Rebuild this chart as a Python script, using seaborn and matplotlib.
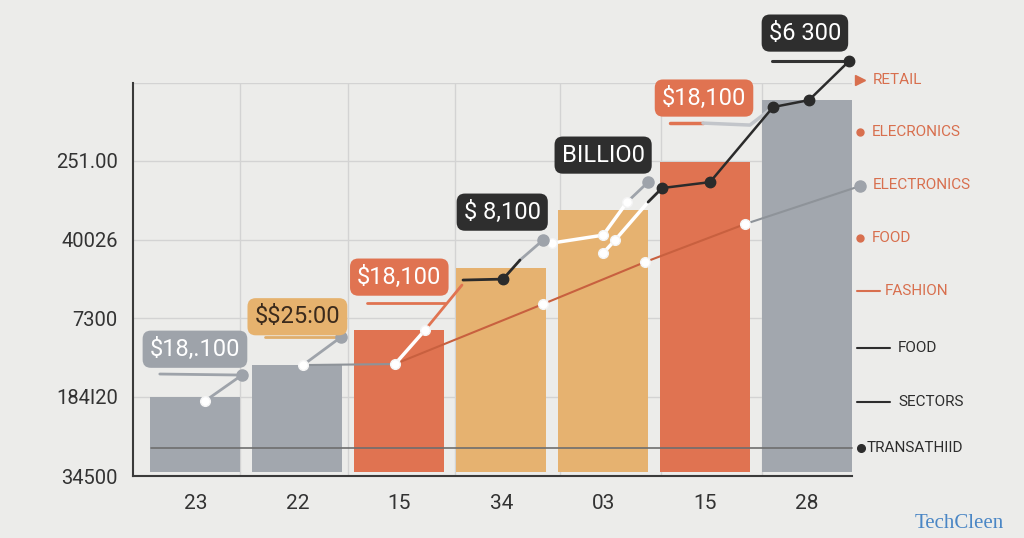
import matplotlib
matplotlib.use("Agg")
import matplotlib.pyplot as plt
from matplotlib.lines import Line2D
import seaborn as sns
import pandas as pd

# ---------------- data ----------------
x_labels = ["23", "22", "15", "34", "03", "15", "28"]
bar_values = [0.95, 1.35, 1.79, 2.57, 3.31, 3.91, 4.69]
bar_colors = ["#A2A7AE", "#A2A7AE", "#E07351", "#E6B270", "#E6B270", "#E07351", "#A2A7AE"]

y_tick_values = [-0.05, 0.95, 1.94, 2.93, 3.93, 4.91]
y_tick_labels = ["34500", "184I20", "7300", "40026", "251.00", ""]
x_grid_values = [0.437, 1.497, 2.547, 3.577, 4.568, 5.559]

callout_texts = ["$18,.100", "$$25:00", "$18,100", "$ 8,100", "BILLIO0", "$18,100", "$6 300"]
callout_x = [-0.005, 1.0, 2.0, 3.01, 4.0, 4.99, 5.98]
callout_y = [1.55, 1.96, 2.46, 3.28, 4.0, 4.72, 5.54]
callout_face = ["#9EA3AA", "#E6B26E", "#E07351", "#2E2E2E", "#2E2E2E", "#E07351", "#2E2E2E"]
callout_textcolor = ["white", "#3B2A1C", "white", "white", "white", "white", "white"]

# line series (x in category units, y in value units)
trend_red_x = [1.958, 3.41, 4.411, 5.393]
trend_red_y = [1.363, 2.12, 2.65, 3.13]
trend_gray_x = [5.393, 6.52]
trend_gray_y = [3.13, 3.609]
black_main_x = [4.578, 5.049, 5.667, 6.02, 6.413]
black_main_y = [3.584, 3.659, 4.606, 4.694, 5.186]
black_flat_x = [2.625, 3.018, 3.184]
black_flat_y = [2.423, 2.435, 2.675]
white_rise_x = [1.958, 2.252]
white_rise_y = [1.363, 1.792]
red_rise_x = [2.252, 2.615]
red_rise_y = [1.792, 2.36]
white_a_x = [3.498, 4.0, 4.235]
white_a_y = [2.89, 2.99, 3.407]
white_b_x = [4.0, 4.117, 4.441]
white_b_y = [2.763, 2.927, 3.407]
gray_lead1_x = [-0.35, 0.456, 0.093]
gray_lead1_y = [1.237, 1.224, 0.896]
gray_lead2_x = [1.055, 1.428]
gray_lead2_y = [1.35, 1.703]
gray_flat_x = [1.055, 1.958]
gray_flat_y = [1.35, 1.363]
gray_lead4_x = [3.184, 3.41]
gray_lead4_y = [2.675, 2.927]
gray_lead5_x = [4.235, 4.441]
gray_lead5_y = [3.407, 3.659]
black_lead5_x = [4.441, 4.578]
black_lead5_y = [3.407, 3.584]
sand_under_x = [0.682, 1.428]
sand_under_y = [1.703, 1.703]
red_under3_x = [1.683, 2.448]
red_under3_y = [2.133, 2.133]
red_under6_x = [4.657, 4.98]
red_under6_y = [4.404, 4.404]
gray_under6_x = [4.98, 5.441, 5.657]
gray_under6_y = [4.404, 4.379, 4.593]
dark_under7_x = [5.657, 6.413]
dark_under7_y = [5.186, 5.186]
base_line_x = [-0.437, 6.44]
base_line_y = [0.303, 0.303]

white_dot_x = [0.093, 1.055, 1.958, 2.252, 3.41, 4.411, 5.393, 3.498, 4.0, 4.235, 4.0, 4.117]
white_dot_y = [0.896, 1.35, 1.363, 1.792, 2.12, 2.65, 3.13, 2.89, 2.99, 3.407, 2.763, 2.927]
gray_dot_x = [0.456, 1.428, 3.41, 4.441, 6.52]
gray_dot_y = [1.224, 1.703, 2.927, 3.659, 3.609]

legend_labels = ["RETAIL", "ELECRONICS", "ELECTRONICS", "FOOD", "FASHION", "FOOD", "SECTORS", "TRANSATHIID"]

# ---------------- style ----------------
BG = "#ECECEA"
sns.set_style("white")
FONT = ["Roboto", "DejaVu Sans"]
plt.rcParams["font.family"] = FONT
plt.rcParams["text.parse_math"] = False

fig = plt.figure(figsize=(10.24, 5.38), dpi=100, facecolor=BG)
ax = fig.add_axes([133 / 1024, 1 - 476 / 538, 719 / 1024, 393 / 538])
ax.set_facecolor(BG)

df = pd.DataFrame({"pos": list(range(len(bar_values))), "value": bar_values})
sns.barplot(data=df, x="pos", y="value", hue="pos", palette=bar_colors,
            width=0.883, saturation=1, legend=False, ax=ax, zorder=2,
            edgecolor="none", linewidth=0)

ax.set_xlim(-0.613, 6.442)
ax.set_ylim(-0.05, 4.91)
ax.set_yticks(y_tick_values)
ax.set_yticklabels(y_tick_labels, fontsize=14.5, color="#333333")
ax.set_xticks(range(len(x_labels)))
ax.set_xticklabels(x_labels, fontsize=15, color="#333333")
ax.tick_params(axis="y", length=0, pad=11)
ax.tick_params(axis="x", length=0, pad=13)
ax.set_xlabel("")
ax.set_ylabel("")

for v in y_tick_values[1:]:
    ax.axhline(v, color="#D3D3D3", lw=1, zorder=0)
for v in x_grid_values:
    ax.axvline(v, color="#D3D3D3", lw=1, zorder=0)

for s in ["top", "right"]:
    ax.spines[s].set_visible(False)
for s in ["left", "bottom"]:
    ax.spines[s].set_color("#3A3A3A")
    ax.spines[s].set_linewidth(1.5)

GRAY = "#9EA3AA"
RED = "#E07351"
BLACK = "#2B2B2B"

def line(x, y, color, lw=2.0, z=4):
    ax.plot(x, y, color=color, lw=lw, zorder=z, clip_on=False, solid_capstyle="round")

line(base_line_x, base_line_y, "#6E6E6E", lw=1.2, z=3)
line(trend_red_x, trend_red_y, "#C8603F", lw=1.5)
line(trend_gray_x, trend_gray_y, "#8E9399", lw=1.5)
line(gray_lead1_x, gray_lead1_y, GRAY, lw=2)
line(gray_lead2_x, gray_lead2_y, GRAY, lw=2)
line(gray_flat_x, gray_flat_y, "#8E9399", lw=1.5)
line(gray_lead4_x, gray_lead4_y, GRAY, lw=2)
line(gray_lead5_x, gray_lead5_y, GRAY, lw=2)
line(sand_under_x, sand_under_y, "#E0AE6C", lw=2)
line(red_under3_x, red_under3_y, RED, lw=2)
line(red_under6_x, red_under6_y, RED, lw=2.5)
line(gray_under6_x, gray_under6_y, "#C2C5CA", lw=2.5)
line(white_rise_x, white_rise_y, "white", lw=2.5)
line(red_rise_x, red_rise_y, RED, lw=2)
line(white_a_x, white_a_y, "white", lw=2.5)
line(white_b_x, white_b_y, "white", lw=2.5)
line(black_flat_x, black_flat_y, BLACK, lw=2)
line(black_lead5_x, black_lead5_y, BLACK, lw=2)
line(black_main_x, black_main_y, BLACK, lw=1.8)
line(dark_under7_x, dark_under7_y, "#333333", lw=2.2)

ax.plot(white_dot_x, white_dot_y, "o", ms=7, mfc="white", mec="#F4F4F4", zorder=5, clip_on=False)
ax.plot(gray_dot_x, gray_dot_y, "o", ms=8, mfc=GRAY, mec=GRAY, zorder=5, clip_on=False)
ax.plot(black_main_x + [black_flat_x[1]], black_main_y + [black_flat_y[1]], "o",
        ms=7.5, mfc=BLACK, mec=BLACK, zorder=5, clip_on=False)

for t, x, y, fc, tc in zip(callout_texts, callout_x, callout_y, callout_face, callout_textcolor):
    ax.text(x, y, t, ha="center", va="center", fontsize=17, color=tc, zorder=6,
            bbox=dict(boxstyle="round,pad=0.3,rounding_size=0.35", fc=fc, ec="none"),
            clip_on=False)

# ---------------- right-hand legend ----------------
ORANGE_T = "#D86F4E"
DARK_T = "#2D2D2D"
leg_text_x = [873, 872, 873, 872, 885, 898, 898, 867]
leg_text_y = [80, 132, 185, 238, 291, 348, 402, 448]
leg_color = [ORANGE_T] * 5 + [DARK_T] * 3

def fx(px):
    return px / 1024

def fy(py):
    return 1 - py / 538

for lab, tx, ty, c in zip(legend_labels, leg_text_x, leg_text_y, leg_color):
    fig.text(fx(tx), fy(ty), lab, ha="left", va="center", fontsize=11, color=c)

fig.add_artist(Line2D([fx(860)], [fy(80)], marker=">", ms=7, color=ORANGE_T, lw=0))
fig.add_artist(Line2D([fx(860)], [fy(132)], marker="o", ms=5, color=ORANGE_T, lw=0))
fig.add_artist(Line2D([fx(860)], [fy(238)], marker="o", ms=5, color=ORANGE_T, lw=0))
fig.add_artist(Line2D([fx(857), fx(880)], [fy(291), fy(291)], color=ORANGE_T, lw=1.5))
fig.add_artist(Line2D([fx(857), fx(890)], [fy(348), fy(348)], color=DARK_T, lw=1.5))
fig.add_artist(Line2D([fx(857), fx(890)], [fy(402), fy(402)], color=DARK_T, lw=1.5))
fig.add_artist(Line2D([fx(861)], [fy(448)], marker="o", ms=5.5, color=DARK_T, lw=0))

fig.text(fx(915), fy(524), "TechCleen", ha="left", va="center", fontsize=15,
         color="#4A86C5", family=["Liberation Serif", "DejaVu Serif"])

fig.savefig("out.png", dpi=100, facecolor=BG)
